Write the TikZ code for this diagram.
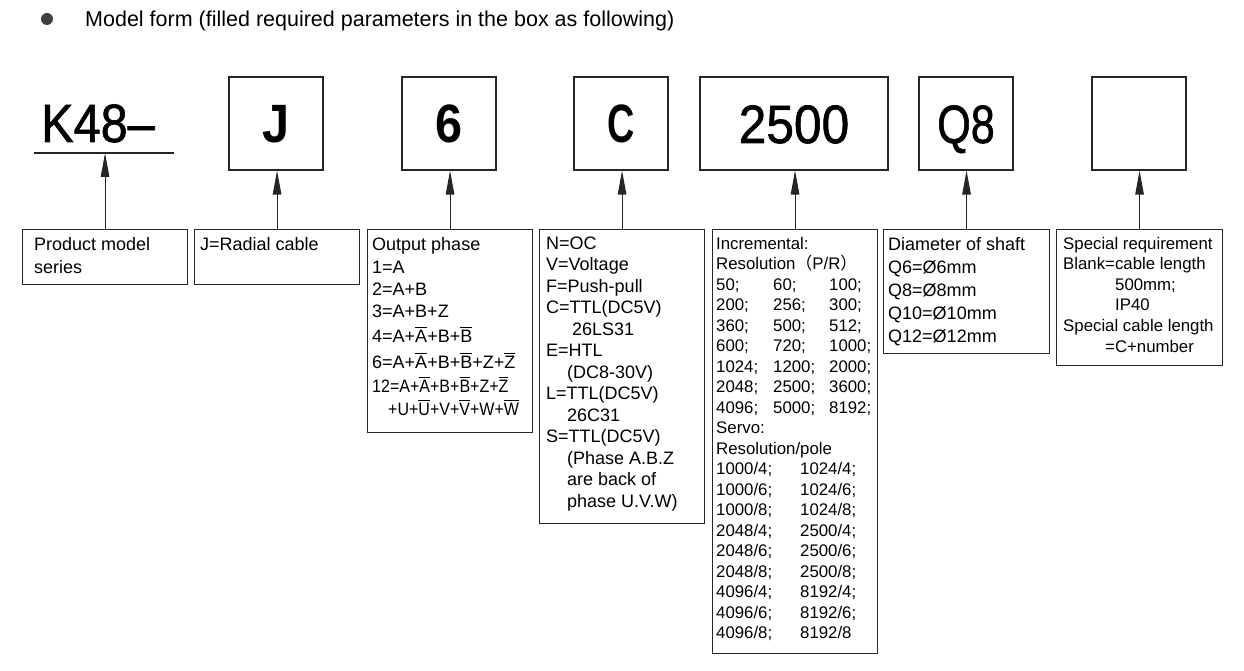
\documentclass[tikz,border=0pt]{standalone}
\usepackage{fontspec}
\usepackage{graphicx}
\setmainfont{Liberation Sans}
\newfontfamily\cjk{Noto Sans CJK SC}
\newfontfamily\bigfont[FakeBold=1.2]{Liberation Sans}
\usetikzlibrary{arrows.meta}
\definecolor{linec}{gray}{0.15}
\newcommand\ob[1]{\leavevmode\setbox0=\hbox{#1}\rlap{\rule[14.3pt]{\wd0}{0.9pt}}\box0}
\newcommand\cola[1]{\makebox[57pt][l]{#1}}
\newcommand\colb[1]{\makebox[56pt][l]{#1}}
\newcommand\colc[1]{\makebox[84pt][l]{#1}}
\begin{document}
\begin{tikzpicture}[x=1pt,y=-1pt,
  topbox/.style={draw=linec, line width=1.1pt, minimum width=94pt, minimum height=93pt,
    inner sep=0pt, text height=39pt, text depth=0pt, font=\fontsize{54}{54}\selectfont},
  botbox/.style={draw=linec, line width=1.1pt, inner sep=0pt, anchor=north west},
  txt/.style={anchor=base west, inner sep=0pt, font=\fontsize{18}{23}\selectfont},
  arr/.style={draw=linec, line width=1.1pt, -{Triangle[length=24pt,width=8.5pt]}}]
\useasboundingbox (0,0) rectangle (1244,671);
% title
\node[circle, fill=black!75, minimum size=12pt, inner sep=0pt] (bul) at (47,19) {};
\node[anchor=base west, inner sep=0pt, font=\fontsize{21.5}{24}\selectfont] (title) at (85,27)
  {Model form (filled required parameters in the box as following)};
% top row
\node[anchor=base, inner sep=0pt, font=\fontsize{54}{54}\bigfont] (k48) at (98,142) {\scalebox{0.9}[1]{K48–}};
\coordinate (ulL) at (34,153);
\coordinate (ulR) at (174,153);
\coordinate (ulM) at (104,153);
\draw[linec, line width=1.1pt] (ulL) -- (ulR);
\node[topbox] (jt) at (276,123.5) {\scalebox{0.9}[1]{\bfseries J}};
\node[topbox] (pt) at (449,123.5) {\scalebox{0.9}[1]{\bfseries 6}};
\node[topbox] (ct) at (621,123.5) {\scalebox{0.7}[1]{\bfseries C}};
\node[topbox, minimum width=188pt] (rt) at (794,123.5) {\scalebox{0.92}[1]{\bigfont 2500}};
\node[topbox] (qt) at (966,123.5) {\scalebox{0.8}[1]{\bigfont Q8}};
\node[topbox] (st) at (1139,123.5) {};
% bottom boxes
\node[botbox, minimum width=165pt, minimum height=55pt] (pb) at (22,229) {};
\node[botbox, minimum width=165pt, minimum height=55pt] (jb) at (194,229) {};
\node[botbox, minimum width=165pt, minimum height=203pt] (ob) at (367,229) {};
\node[botbox, minimum width=165pt, minimum height=294pt] (cb) at (539,229) {};
\node[botbox, minimum width=165pt, minimum height=424pt] (ib) at (712,229) {};
\node[botbox, minimum width=166pt, minimum height=124pt] (db) at (883,229) {};
\node[botbox, minimum width=166pt, minimum height=136pt] (sb) at (1056,229) {};
% texts
\node[txt] (pbt) at (34,250) {\begin{tabular}[t]{@{}l@{}}Product model\\series\end{tabular}};
\node[txt] (jbt) at (200,250) {\begin{tabular}[t]{@{}l@{}}J=Radial cable\end{tabular}};
\node[txt, font=\fontsize{18}{22}\selectfont] (obt) at (372,250) {\begin{tabular}[t]{@{}l@{}}
Output phase\\[1pt]
1=A\\
2=A+B\\
3=A+B+Z\\[3pt]
4=A+\ob{A}+B+\ob{B}\\[4pt]
6=A+\ob{A}+B+\ob{B}+Z+\ob{Z}\\[2pt]
\scalebox{0.89}[1]{12=A+\ob{A}+B+\ob{B}+Z+\ob{Z}}\\[1pt]
\hspace*{16pt}\scalebox{0.89}[1]{+U+\ob{U}+V+\ob{V}+W+\ob{W}}
\end{tabular}};
\node[txt, font=\fontsize{18}{21.5}\selectfont] (cbt) at (546,249) {\begin{tabular}[t]{@{}l@{}}
N=OC\\
V=Voltage\\
F=Push-pull\\
C=TTL(DC5V)\\
\hspace*{26pt}26LS31\\
E=HTL\\
\hspace*{21pt}(DC8-30V)\\
L=TTL(DC5V)\\
\hspace*{21pt}26C31\\
S=TTL(DC5V)\\
\hspace*{21pt}(Phase A.B.Z\\
\hspace*{21pt}are back of\\
\hspace*{21pt}phase U.V.W)
\end{tabular}};
\node[txt, font=\fontsize{16.8}{20.5}\selectfont] (ibt) at (716,249) {\begin{tabular}[t]{@{}l@{}}
Incremental:\\
Resolution{\cjk （}P/R{\cjk ）}\\
\cola{50;}\colb{60;}100;\\
\cola{200;}\colb{256;}300;\\
\cola{360;}\colb{500;}512;\\
\cola{600;}\colb{720;}1000;\\
\cola{1024;}\colb{1200;}2000;\\
\cola{2048;}\colb{2500;}3600;\\
\cola{4096;}\colb{5000;}8192;\\
Servo:\\
Resolution/pole\\
\colc{1000/4;}1024/4;\\
\colc{1000/6;}1024/6;\\
\colc{1000/8;}1024/8;\\
\colc{2048/4;}2500/4;\\
\colc{2048/6;}2500/6;\\
\colc{2048/8;}2500/8;\\
\colc{4096/4;}8192/4;\\
\colc{4096/6;}8192/6;\\
\colc{4096/8;}8192/8
\end{tabular}};
\node[txt] (dbt) at (888,250) {\begin{tabular}[t]{@{}l@{}}
Diameter of shaft\\
Q6=Ø6mm\\
Q8=Ø8mm\\
Q10=Ø10mm\\
Q12=Ø12mm
\end{tabular}};
\node[txt, font=\fontsize{16.8}{20.6}\selectfont] (sbt) at (1063,249) {\begin{tabular}[t]{@{}l@{}}
Special requirement\\
Blank=cable length\\
\hspace*{52pt}500mm;\\
\hspace*{52pt}IP40\\
Special cable length\\
\hspace*{42pt}=C+number
\end{tabular}};
% arrows
\draw[arr] (pb.north) -- (pb.north |- ulM);
\draw[arr] (jb.north) -- (jb.north |- jt.south);
\draw[arr] (ob.north) -- (ob.north |- pt.south);
\draw[arr] (cb.north) -- (cb.north |- ct.south);
\draw[arr] (ib.north) -- (ib.north |- rt.south);
\draw[arr] (db.north) -- (db.north |- qt.south);
\draw[arr] (sb.north) -- (sb.north |- st.south);
\end{tikzpicture}
\end{document}
